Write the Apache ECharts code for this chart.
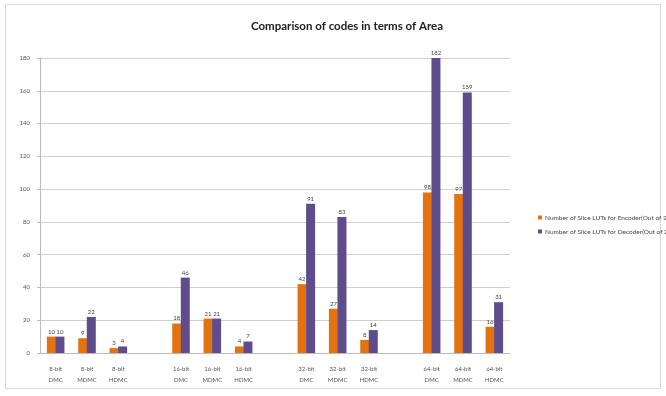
<!DOCTYPE html>
<html><head><meta charset="utf-8">
<script src="https://cdn.jsdelivr.net/npm/echarts@6/dist/echarts.min.js"></script>
<style>html,body{margin:0;padding:0;background:#fff}#c{width:666px;height:396px}</style>
</head><body><div id="c"></div>
<script>
var categories = ['8-bit\nDMC','8-bit\nMDMC','8-bit\nHDMC','','16-bit\nDMC','16-bit\nMDMC','16-bit\nHDMC','','32-bit\nDMC','32-bit\nMDMC','32-bit\nHDMC','','64-bit\nDMC','64-bit\nMDMC','64-bit\nHDMC'];
var encoder = [10, 9, 3, '-', 18, 21, 4, '-', 42, 27, 8, '-', 98, 97, 16];
var decoder = [10, 22, 4, '-', 46, 21, 7, '-', 91, 83, 14, '-', 182, 159, 31];
var seriesNames = ['Number of Slice LUTs for Encoder(Out of 27288)','Number of Slice LUTs for Decoder(Out of 27288)'];
var yTicks = {min: 0, max: 180, interval: 20};

var FONT = 'Lato';
var chart = echarts.init(document.getElementById('c'));
var lbl = {show: true, position: 'top', fontSize: 6, color: '#444', distance: 2, fontFamily: FONT};
chart.setOption({
  animation: false,
  backgroundColor: '#fff',
  textStyle: {fontFamily: FONT},
  graphic: [{type: 'rect', shape: {x: 5.5, y: 4.5, width: 655, height: 384}, style: {fill: 'none', stroke: '#d9d9d9', lineWidth: 1}}],
  title: {text: 'Comparison of codes in terms of Area', left: 342, top: 15, textAlign: 'center',
    textStyle: {fontSize: 11.5, fontWeight: 'bold', color: '#222', fontFamily: FONT}},
  legend: {orient: 'vertical', left: 533, top: 209, itemWidth: 4, itemHeight: 4, itemGap: 7,
    icon: 'rect', textStyle: {fontSize: 6.5, color: '#444', padding: [0,0,0,-2], fontFamily: FONT}, data: seriesNames},
  grid: {left: 40, right: 156, top: 58, bottom: 43},
  xAxis: {type: 'category', data: categories,
    axisLine: {show: true, lineStyle: {color: '#bbb'}}, axisTick: {show: false},
    axisLabel: {interval: 0, fontSize: 6, color: '#555', lineHeight: 11, margin: 11, fontFamily: FONT}},
  yAxis: {type: 'value', min: yTicks.min, max: yTicks.max, interval: yTicks.interval,
    axisLine: {show: true, lineStyle: {color: '#bbb'}}, axisTick: {show: true, length: 3, lineStyle: {color: '#bbb'}},
    axisLabel: {fontSize: 6, color: '#555', margin: 10, fontFamily: FONT},
    splitLine: {lineStyle: {color: '#cfcfcf', width: 1.2}}},
  series: [
    {name: seriesNames[0], type: 'bar', data: encoder, barWidth: 9, barGap: '-5%',
      itemStyle: {color: '#E4730F'}, label: lbl},
    {name: seriesNames[1], type: 'bar', data: decoder, barWidth: 9,
      itemStyle: {color: '#5E4C8C'}, label: lbl}
  ]
});
</script></body></html>
